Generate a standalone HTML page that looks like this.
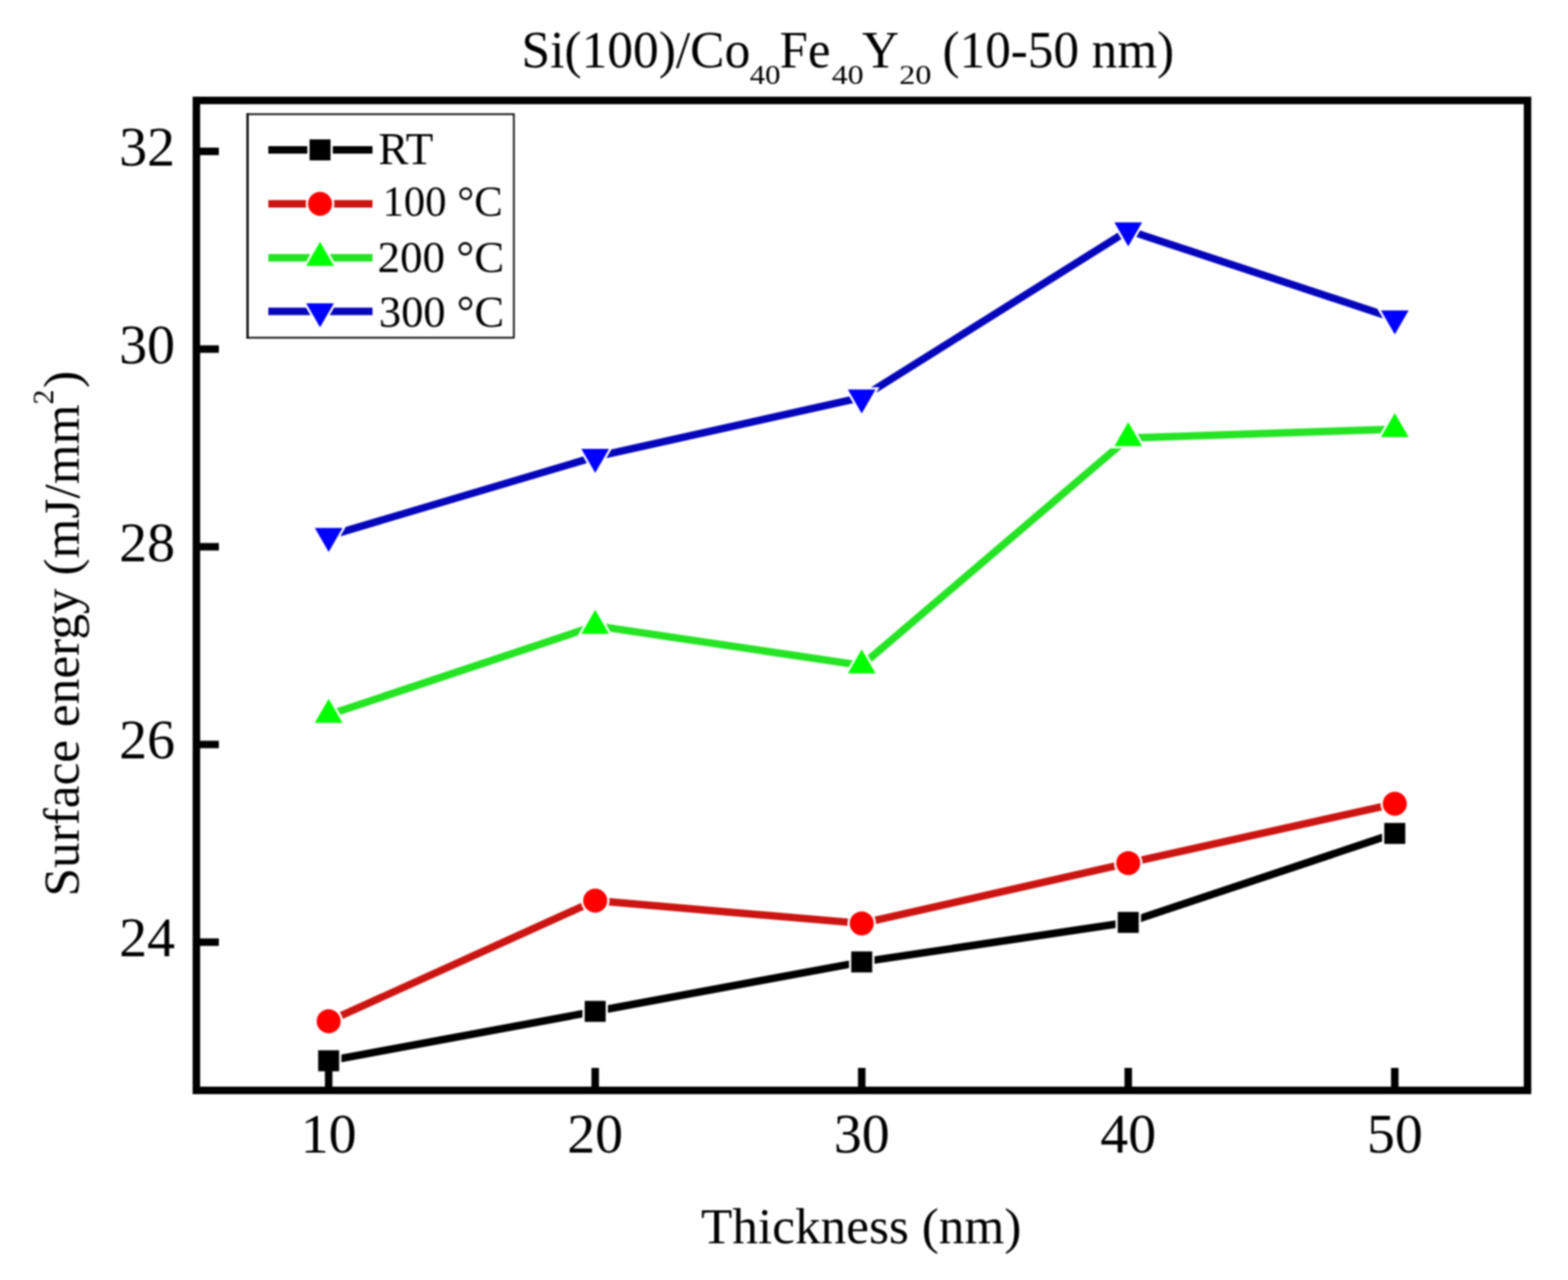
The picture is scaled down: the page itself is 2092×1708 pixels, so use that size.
<!DOCTYPE html><html><head><meta charset="utf-8"><title>Surface energy chart</title><style>html,body{margin:0;padding:0;background:#fff;width:2092px;height:1708px;overflow:hidden}svg{display:block;filter:blur(1px)}</style></head><body><svg width="2092" height="1708" viewBox="0 0 2092 1708" font-family='"Liberation Serif", "Times New Roman", serif' fill="#000">
<rect width="2092" height="1708" fill="#fff"/>
<text x="695.81" y="89.70" font-size="69" textLength="305.21" lengthAdjust="spacingAndGlyphs">Si(100)/Co</text>
<text x="1000.20" y="112.30" font-size="36" textLength="41.07" lengthAdjust="spacingAndGlyphs">40</text>
<text x="1040.36" y="89.70" font-size="69" textLength="67.48" lengthAdjust="spacingAndGlyphs">Fe</text>
<text x="1109.87" y="112.30" font-size="36" textLength="42.45" lengthAdjust="spacingAndGlyphs">40</text>
<text x="1149.93" y="89.70" font-size="69" textLength="49.62" lengthAdjust="spacingAndGlyphs">Y</text>
<text x="1199.82" y="112.30" font-size="36" textLength="42.81" lengthAdjust="spacingAndGlyphs">20</text>
<text x="1257.60" y="89.70" font-size="69" textLength="308.90" lengthAdjust="spacingAndGlyphs">(10-50 nm)</text>
<polyline points="438.50,1415.48 794.10,1349.53 1149.70,1283.58 1505.30,1230.82 1860.90,1112.11" fill="none" stroke="#000000" stroke-width="10" stroke-linejoin="round"/>
<rect x="424.50" y="1401.48" width="28" height="28" fill="#fff" stroke="#fff" stroke-width="6" stroke-linejoin="miter"/>
<rect x="780.10" y="1335.53" width="28" height="28" fill="#fff" stroke="#fff" stroke-width="6" stroke-linejoin="miter"/>
<rect x="1135.70" y="1269.58" width="28" height="28" fill="#fff" stroke="#fff" stroke-width="6" stroke-linejoin="miter"/>
<rect x="1491.30" y="1216.82" width="28" height="28" fill="#fff" stroke="#fff" stroke-width="6" stroke-linejoin="miter"/>
<rect x="1846.90" y="1098.11" width="28" height="28" fill="#fff" stroke="#fff" stroke-width="6" stroke-linejoin="miter"/>
<rect x="424.50" y="1401.48" width="28" height="28" fill="#000000"/>
<rect x="780.10" y="1335.53" width="28" height="28" fill="#000000"/>
<rect x="1135.70" y="1269.58" width="28" height="28" fill="#000000"/>
<rect x="1491.30" y="1216.82" width="28" height="28" fill="#000000"/>
<rect x="1846.90" y="1098.11" width="28" height="28" fill="#000000"/>
<polyline points="438.50,1362.72 794.10,1201.80 1149.70,1232.14 1505.30,1151.68 1860.90,1072.54" fill="none" stroke="#cc1512" stroke-width="10" stroke-linejoin="round"/>
<circle cx="438.50" cy="1362.72" r="16" fill="#fff" stroke="#fff" stroke-width="6" stroke-linejoin="miter"/>
<circle cx="794.10" cy="1201.80" r="16" fill="#fff" stroke="#fff" stroke-width="6" stroke-linejoin="miter"/>
<circle cx="1149.70" cy="1232.14" r="16" fill="#fff" stroke="#fff" stroke-width="6" stroke-linejoin="miter"/>
<circle cx="1505.30" cy="1151.68" r="16" fill="#fff" stroke="#fff" stroke-width="6" stroke-linejoin="miter"/>
<circle cx="1860.90" cy="1072.54" r="16" fill="#fff" stroke="#fff" stroke-width="6" stroke-linejoin="miter"/>
<circle cx="438.50" cy="1362.72" r="16" fill="#ff0000"/>
<circle cx="794.10" cy="1201.80" r="16" fill="#ff0000"/>
<circle cx="1149.70" cy="1232.14" r="16" fill="#ff0000"/>
<circle cx="1505.30" cy="1151.68" r="16" fill="#ff0000"/>
<circle cx="1860.90" cy="1072.54" r="16" fill="#ff0000"/>
<polyline points="438.50,953.83 794.10,835.12 1149.70,887.88 1505.30,584.51 1860.90,572.64" fill="none" stroke="#24e424" stroke-width="10" stroke-linejoin="round"/>
<polygon points="438.50,932.50 457.00,964.50 420.00,964.50" fill="#fff" stroke="#fff" stroke-width="6" stroke-linejoin="miter"/>
<polygon points="794.10,813.79 812.60,845.79 775.60,845.79" fill="#fff" stroke="#fff" stroke-width="6" stroke-linejoin="miter"/>
<polygon points="1149.70,866.55 1168.20,898.55 1131.20,898.55" fill="#fff" stroke="#fff" stroke-width="6" stroke-linejoin="miter"/>
<polygon points="1505.30,563.18 1523.80,595.18 1486.80,595.18" fill="#fff" stroke="#fff" stroke-width="6" stroke-linejoin="miter"/>
<polygon points="1860.90,551.31 1879.40,583.31 1842.40,583.31" fill="#fff" stroke="#fff" stroke-width="6" stroke-linejoin="miter"/>
<polygon points="438.50,932.50 457.00,964.50 420.00,964.50" fill="#00ff00"/>
<polygon points="794.10,813.79 812.60,845.79 775.60,845.79" fill="#00ff00"/>
<polygon points="1149.70,866.55 1168.20,898.55 1131.20,898.55" fill="#00ff00"/>
<polygon points="1505.30,563.18 1523.80,595.18 1486.80,595.18" fill="#00ff00"/>
<polygon points="1860.90,551.31 1879.40,583.31 1842.40,583.31" fill="#00ff00"/>
<polyline points="438.50,715.09 794.10,609.57 1149.70,530.43 1505.30,307.52 1860.90,424.91" fill="none" stroke="#0606bc" stroke-width="10" stroke-linejoin="round"/>
<polygon points="438.50,736.42 457.00,704.42 420.00,704.42" fill="#fff" stroke="#fff" stroke-width="6" stroke-linejoin="miter"/>
<polygon points="794.10,630.90 812.60,598.90 775.60,598.90" fill="#fff" stroke="#fff" stroke-width="6" stroke-linejoin="miter"/>
<polygon points="1149.70,551.76 1168.20,519.76 1131.20,519.76" fill="#fff" stroke="#fff" stroke-width="6" stroke-linejoin="miter"/>
<polygon points="1505.30,328.85 1523.80,296.85 1486.80,296.85" fill="#fff" stroke="#fff" stroke-width="6" stroke-linejoin="miter"/>
<polygon points="1860.90,446.24 1879.40,414.24 1842.40,414.24" fill="#fff" stroke="#fff" stroke-width="6" stroke-linejoin="miter"/>
<polygon points="438.50,736.42 457.00,704.42 420.00,704.42" fill="#0000ff"/>
<polygon points="794.10,630.90 812.60,598.90 775.60,598.90" fill="#0000ff"/>
<polygon points="1149.70,551.76 1168.20,519.76 1131.20,519.76" fill="#0000ff"/>
<polygon points="1505.30,328.85 1523.80,296.85 1486.80,296.85" fill="#0000ff"/>
<polygon points="1860.90,446.24 1879.40,414.24 1842.40,414.24" fill="#0000ff"/>
<path d="M330.3,151 V451.8" stroke="#000" stroke-width="3" fill="none"/>
<path d="M328.8,152.4 H686.6 M685.6,152.4 V451.7 M328.8,450.7 H686.6" stroke="#000" stroke-width="2.2" fill="none"/>
<line x1="358" y1="200" x2="497" y2="200" stroke="#000000" stroke-width="10"/>
<rect x="413.00" y="186.00" width="28" height="28" fill="#fff" stroke="#fff" stroke-width="6" stroke-linejoin="miter"/>
<rect x="413.00" y="186.00" width="28" height="28" fill="#000000"/>
<line x1="358" y1="272" x2="497" y2="272" stroke="#cc1512" stroke-width="10"/>
<circle cx="427.00" cy="272.00" r="16" fill="#fff" stroke="#fff" stroke-width="6" stroke-linejoin="miter"/>
<circle cx="427.00" cy="272.00" r="16" fill="#ff0000"/>
<line x1="358" y1="344" x2="497" y2="344" stroke="#24e424" stroke-width="10"/>
<polygon points="427.00,322.67 445.50,354.67 408.50,354.67" fill="#fff" stroke="#fff" stroke-width="6" stroke-linejoin="miter"/>
<polygon points="427.00,322.67 445.50,354.67 408.50,354.67" fill="#00ff00"/>
<line x1="358" y1="415.5" x2="497" y2="415.5" stroke="#0606bc" stroke-width="10"/>
<polygon points="427.00,436.83 445.50,404.83 408.50,404.83" fill="#fff" stroke="#fff" stroke-width="6" stroke-linejoin="miter"/>
<polygon points="427.00,436.83 445.50,404.83 408.50,404.83" fill="#0000ff"/>
<text x="504.75" y="219.00" font-size="60.5" textLength="73.41" lengthAdjust="spacingAndGlyphs">RT</text>
<text x="510.40" y="288.30" font-size="58" textLength="160.34" lengthAdjust="spacingAndGlyphs">100 °C</text>
<text x="503.76" y="362.70" font-size="59.5" textLength="168.94" lengthAdjust="spacingAndGlyphs">200 °C</text>
<text x="505.46" y="436.00" font-size="59.5" textLength="167.22" lengthAdjust="spacingAndGlyphs">300 °C</text>
<rect x="262" y="134" width="1776" height="1321" fill="none" stroke="#000" stroke-width="10"/>
<line x1="262" y1="202.00" x2="292" y2="202.00" stroke="#000" stroke-width="10"/>
<text x="233.5" y="221.00" font-size="74.5" text-anchor="end">32</text>
<line x1="262" y1="465.80" x2="292" y2="465.80" stroke="#000" stroke-width="10"/>
<text x="233.5" y="484.80" font-size="74.5" text-anchor="end">30</text>
<line x1="262" y1="729.60" x2="292" y2="729.60" stroke="#000" stroke-width="10"/>
<text x="233.5" y="748.60" font-size="74.5" text-anchor="end">28</text>
<line x1="262" y1="993.40" x2="292" y2="993.40" stroke="#000" stroke-width="10"/>
<text x="233.5" y="1012.40" font-size="74.5" text-anchor="end">26</text>
<line x1="262" y1="1257.20" x2="292" y2="1257.20" stroke="#000" stroke-width="10"/>
<text x="233.5" y="1276.20" font-size="74.5" text-anchor="end">24</text>
<line x1="438.50" y1="1455" x2="438.50" y2="1425" stroke="#000" stroke-width="10"/>
<text x="438.50" y="1538" font-size="74.5" text-anchor="middle">10</text>
<line x1="794.10" y1="1455" x2="794.10" y2="1425" stroke="#000" stroke-width="10"/>
<text x="794.10" y="1538" font-size="74.5" text-anchor="middle">20</text>
<line x1="1149.70" y1="1455" x2="1149.70" y2="1425" stroke="#000" stroke-width="10"/>
<text x="1149.70" y="1538" font-size="74.5" text-anchor="middle">30</text>
<line x1="1505.30" y1="1455" x2="1505.30" y2="1425" stroke="#000" stroke-width="10"/>
<text x="1505.30" y="1538" font-size="74.5" text-anchor="middle">40</text>
<line x1="1860.90" y1="1455" x2="1860.90" y2="1425" stroke="#000" stroke-width="10"/>
<text x="1860.90" y="1538" font-size="74.5" text-anchor="middle">50</text>
<text x="935.26" y="1659.20" font-size="68.4" textLength="427.54" lengthAdjust="spacingAndGlyphs">Thickness (nm)</text>
<g transform="rotate(-90)"><text x="-1196.37" y="104.90" font-size="68.3" textLength="656.54" lengthAdjust="spacingAndGlyphs">Surface energy (mJ/mm</text><text x="-539.84" y="71.20" font-size="41" textLength="19.83" lengthAdjust="spacingAndGlyphs">2</text><text x="-517.83" y="104.90" font-size="68.3" textLength="23.08" lengthAdjust="spacingAndGlyphs">)</text></g>
</svg></body></html>
